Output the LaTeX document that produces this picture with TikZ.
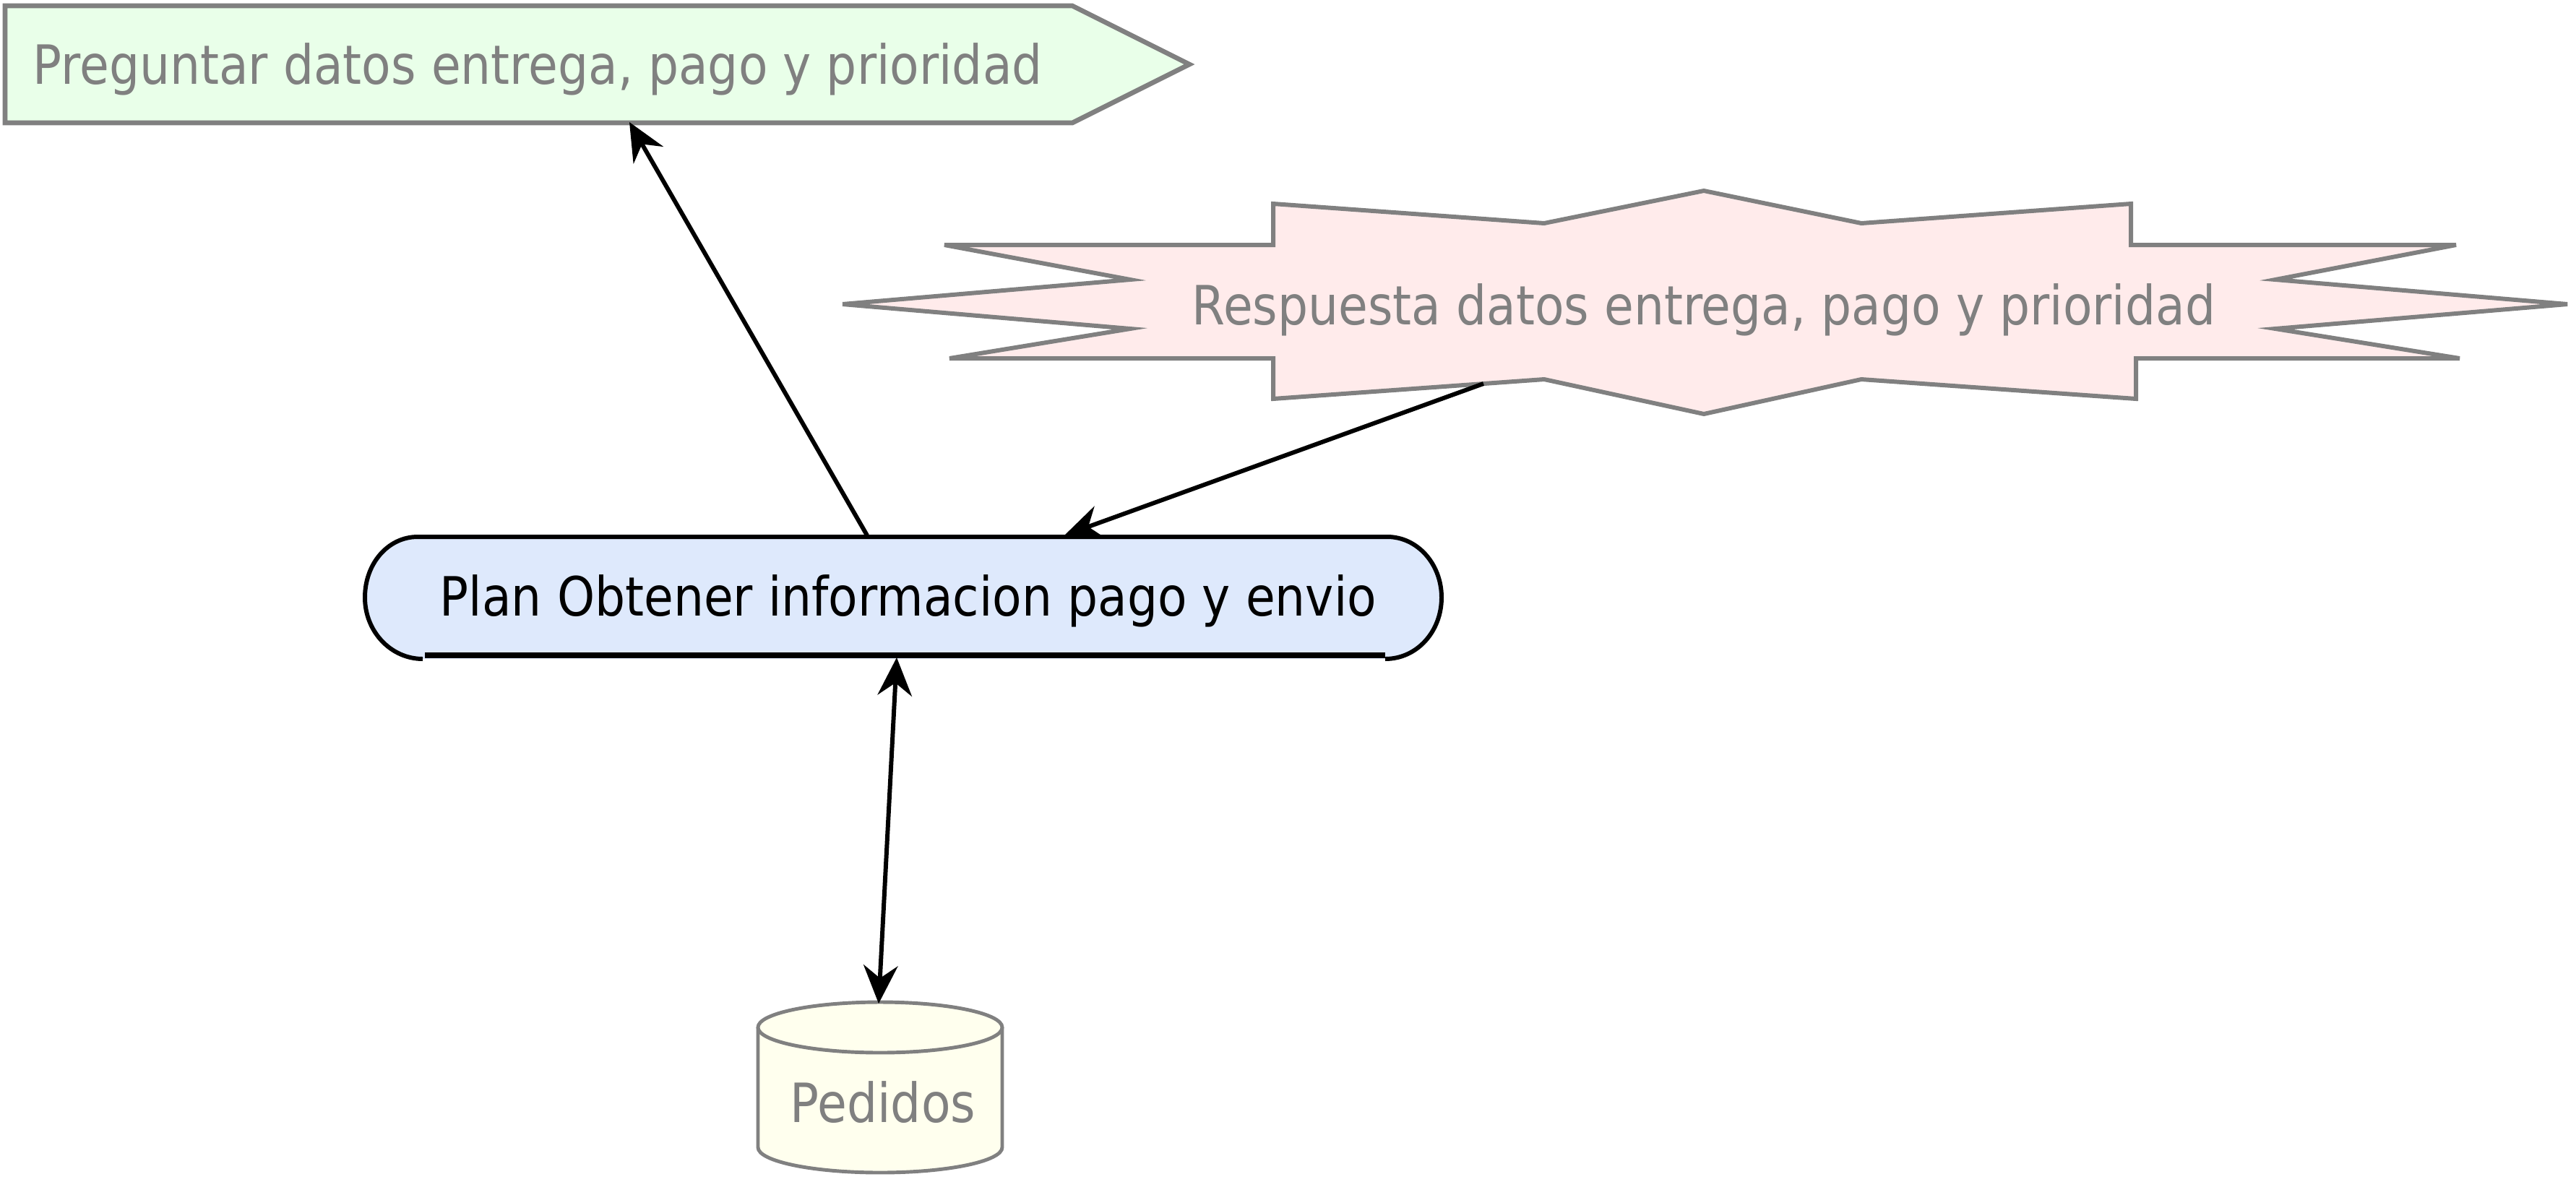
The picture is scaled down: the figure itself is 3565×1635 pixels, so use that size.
\documentclass[tikz,border=0pt]{standalone}
\usepackage{fontspec}
\setmainfont{DejaVu Sans}
\newfontfamily\lblfont[FakeStretch=0.885]{DejaVu Sans}
\usetikzlibrary{arrows.meta}
\definecolor{grayline}{HTML}{808080}
\definecolor{greenfill}{HTML}{E9FFE9}
\definecolor{pinkfill}{HTML}{FFEBEB}
\definecolor{bluefill}{HTML}{DEE9FC}
\definecolor{yellowfill}{HTML}{FFFFEE}
\tikzset{
  grayshape/.style={draw=grayline, line width=1.9pt, line join=miter},
  lbl/.style={inner sep=0pt, font=\lblfont\fontsize{21.3}{25}\selectfont},
  tip/.style={Stealth[length=15pt,width=13.5pt,inset=5pt]},
  conn/.style={draw=black, line width=1.7pt, -{Stealth[length=15pt,width=13.5pt,inset=5pt]}},
  conn2/.style={draw=black, line width=1.7pt, {Stealth[length=15pt,width=13.5pt,inset=5pt]}-{Stealth[length=15pt,width=13.5pt,inset=5pt]}}
}
\begin{document}
\begin{tikzpicture}[x=0.01cm,y=-0.01cm]
\useasboundingbox (0,0) rectangle (3565,1635);
% green signal shape
\draw[grayshape, fill=greenfill] (7,8) -- (1484,8) -- (1646,89) -- (1484,170) -- (7,170) -- cycle;
\node[lbl, text=grayline, anchor=base west] (q) at (45,116) {Preguntar datos entrega, pago y prioridad};
% star
\draw[grayshape, line width=1.7pt, fill=pinkfill]
 (2358,264) -- (2576,309) -- (2949,282) -- (2949,339) -- (3399,339) -- (3149,387) -- (3553,421)
 -- (3149,455) -- (3404,496) -- (2956,496) -- (2956,552) -- (2576,525) -- (2358,573)
 -- (2137,525) -- (1762,552) -- (1762,496) -- (1314,496) -- (1564,455) -- (1166,421)
 -- (1564,387) -- (1307,339) -- (1762,339) -- (1762,282) -- (2137,309) -- cycle;
\node[lbl, text=grayline, anchor=base] (r) at (2358,449) {Respuesta datos entrega, pago y prioridad};
% blue terminator
\fill[bluefill] (578,743) -- (1920,743) .. controls (1961,743) and (1995,780) .. (1995,827)
  .. controls (1995,874) and (1961,912) .. (1920,912) -- (578,912)
  .. controls (537,912) and (505,874) .. (505,827) .. controls (505,780) and (537,743) .. (578,743) -- cycle;
\draw[line width=1.7pt] (585,912) .. controls (541,912) and (505,874) .. (505,827)
  .. controls (505,780) and (537,743) .. (578,743) -- (1920,743)
  .. controls (1961,743) and (1995,780) .. (1995,827) .. controls (1995,874) and (1961,912) .. (1917,912);
\draw[line width=2.2pt] (588,907) -- (1917,907);
\node[lbl, text=black, anchor=base] (p) at (1257,852) {Plan Obtener informacion pago y envio};
% cylinder
\draw[draw=grayline, line width=1.4pt, fill=yellowfill] (1049,1422) -- (1049,1588)
  arc[start angle=180, end angle=0, x radius=169, y radius=35] -- (1387,1422);
\draw[draw=grayline, line width=1.4pt, fill=yellowfill] (1218,1422) ellipse[x radius=169, y radius=35];
\node[lbl, text=grayline, anchor=base] (d) at (1222,1553) {Pedidos};
% connector ends
\coordinate (a1) at (1200,741);
\coordinate (a2) at (871,169);
\coordinate (b1) at (2053,531);
\coordinate (b2) at (1473,741);
\coordinate (c1) at (1241,910);
\coordinate (c2) at (1216,1389);
\draw[conn] (a1) -- (a2);
\draw[conn] (b1) -- (b2);
\draw[conn2] (c1) -- (c2);
\end{tikzpicture}
\end{document}
